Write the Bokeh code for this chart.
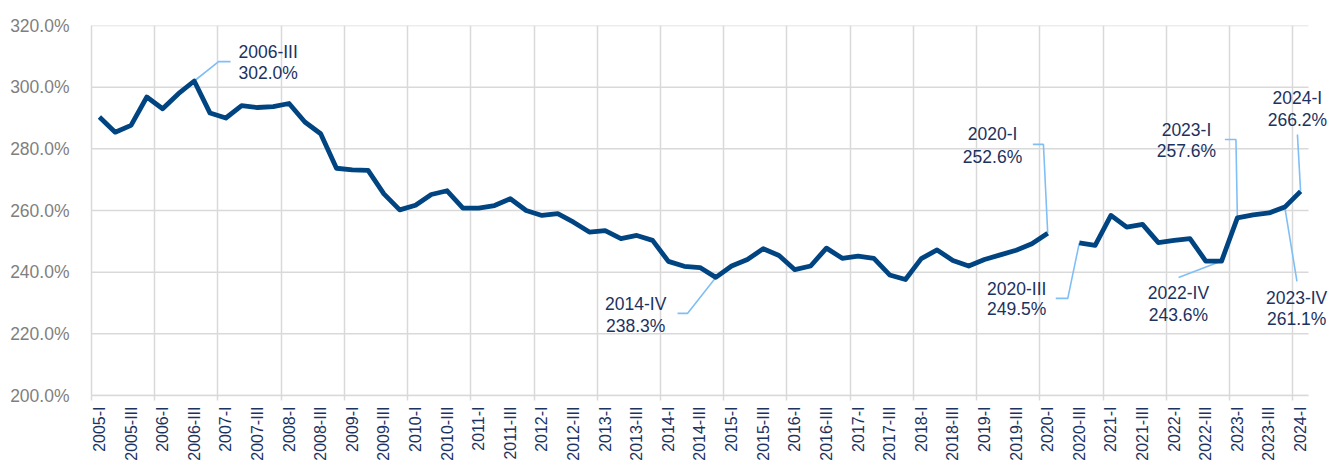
import math
from bokeh.plotting import figure
from bokeh.models import Range1d, FixedTicker, ColumnDataSource, LabelSet, PrintfTickFormatter
from bokeh.core.properties import value
from bokeh.embed import file_html
from bokeh.resources import INLINE

# ---------------- data ----------------
years = list(range(2005, 2025))
roman = ["I", "II", "III", "IV"]
quarters = [f"{y}-{r}" for y in years for r in roman][:77]

values = [
    290.3, 285.4, 287.6, 296.8,   # 2005
    293.0, 297.9, 302.0, 291.6,   # 2006
    290.0, 294.0, 293.4, 293.7,   # 2007
    294.7, 288.7, 284.9, 273.7,   # 2008
    273.2, 273.0, 265.4, 260.2,   # 2009
    261.7, 265.2, 266.4, 260.8,   # 2010
    260.8, 261.6, 263.8, 260.0,   # 2011
    258.4, 259.0, 256.2, 253.0,   # 2012
    253.5, 250.9, 251.9, 250.3,   # 2013
    243.5, 241.9, 241.5, 238.3,   # 2014
    242.0, 244.1, 247.6, 245.4,   # 2015
    240.8, 242.0, 247.8, 244.5,   # 2016
    245.2, 244.5, 239.1, 237.6,   # 2017
    244.4, 247.2, 243.8, 242.0,   # 2018
    244.1, 245.6, 247.1, 249.2,   # 2019
    252.6, float("nan"), 249.5, 248.7,  # 2020
    258.4, 254.6, 255.5, 249.6,   # 2021
    250.3, 250.9, 243.6, 243.6,   # 2022
    257.6, 258.6, 259.2, 261.1,   # 2023
    266.2,                        # 2024
]

tick_labels = quarters[::2]
y_ticks = [200, 220, 240, 260, 280, 300, 320]

annot_quarters = ["2006-III", "2014-IV", "2020-I", "2020-III",
                  "2022-IV", "2023-I", "2023-IV", "2024-I"]

# layout of the call-outs (positions, not data)
annot_align = ["left", "center", "center", "center", "center", "center", "center", "center"]
annot_tx = [8.80, 33.93, 56.51, 58.04, 68.27, 68.78, 75.75, 75.80]
annot_ty1 = [311.25, 229.56, 284.67, 234.42, 233.13, 285.96, 231.51, 296.34]
annot_ty2 = [304.44, 222.43, 277.21, 227.94, 226.00, 279.16, 224.70, 289.21]
leader_x = [[7.54, 8.30], [37.22, 36.58], [59.73, 59.06], [61.27, 60.51],
            [68.28], [71.91, 71.21], [75.77], [75.80]]
leader_y = [[308.3, 308.3], [226.65, 226.65], [281.43, 281.43], [231.51, 231.51],
            [238.31], [283.05, 283.05], [237.02], [284.67]]

# ---------------- figure ----------------
FONT = "Liberation Sans"
GRID = "#D9D9D9"
NAVY = "#1C325F"

X0, X1 = -0.5, 76.5
p = figure(width=1330, height=463,
           x_range=Range1d(X0, X1 + 22 / 15.8), y_range=Range1d(200, 320),
           output_backend="svg", toolbar_location=None,
           min_border_left=91, min_border_right=0,
           min_border_top=25, min_border_bottom=68)
p.outline_line_color = None
p.background_fill_color = "white"
p.border_fill_color = "white"

idx = list(range(len(quarters)))
year_bounds = [X0 + 4 * k for k in range(20)]

# x axis
p.xaxis.ticker = FixedTicker(ticks=idx[::2], minor_ticks=year_bounds)
p.xaxis.bounds = (X0, X1)
p.xaxis.major_label_overrides = {i: lab for i, lab in zip(idx[::2], tick_labels)}
p.xaxis.major_label_orientation = math.pi / 2
p.xaxis.major_label_text_font = FONT
p.xaxis.major_label_text_font_size = "16px"
p.xaxis.major_label_text_color = NAVY
p.xaxis.major_label_standoff = 5
p.xaxis.major_tick_line_color = None
p.xaxis.minor_tick_line_color = GRID
p.xaxis.minor_tick_line_width = 1.5
p.xaxis.minor_tick_out = 5
p.xaxis.minor_tick_in = 0
p.xaxis.axis_line_color = GRID
p.xaxis.axis_line_width = 1.5

# y axis
p.yaxis.ticker = FixedTicker(ticks=y_ticks)
p.yaxis.formatter = PrintfTickFormatter(format="%.1f%%")
p.yaxis.major_label_text_font = FONT
p.yaxis.major_label_text_font_size = "17.5px"
p.yaxis.major_label_text_color = "#7F7F7F"
p.yaxis.major_label_standoff = 16
p.yaxis.major_tick_line_color = None
p.yaxis.minor_tick_line_color = None
p.yaxis.axis_line_color = GRID
p.yaxis.axis_line_width = 1.5

# grids: vertical via grid, horizontal as bounded segments
p.xgrid.ticker = FixedTicker(ticks=year_bounds)
p.xgrid.grid_line_color = GRID
p.xgrid.grid_line_width = 1.5
p.ygrid.visible = False
p.segment(x0=[X0] * len(y_ticks), x1=[X1] * len(y_ticks), y0=y_ticks, y1=y_ticks,
          line_color=GRID, line_width=1.5)

# leader lines (start at the data point)
xs, ys = [], []
for q, lx, ly in zip(annot_quarters, leader_x, leader_y):
    i = quarters.index(q)
    xs.append([i] + lx)
    ys.append([values[i]] + ly)
p.multi_line(xs=xs, ys=ys, line_color="#80BFF5", line_width=1.6)

# main series
p.line(x=idx, y=values, line_color="#004481", line_width=4.8, line_join="round")

# call-out texts
for align in ["left", "center"]:
    tx, ty, tt = [], [], []
    for k, q in enumerate(annot_quarters):
        if annot_align[k] != align:
            continue
        v = values[quarters.index(q)]
        tx += [annot_tx[k], annot_tx[k]]
        ty += [annot_ty1[k], annot_ty2[k]]
        tt += [q, f"{v:.1f}%"]
    src = ColumnDataSource(dict(x=tx, y=ty, text=tt))
    p.add_layout(LabelSet(x="x", y="y", text="text", source=src,
                          text_align=value(align), text_baseline=value("middle"),
                          text_font=value(FONT), text_font_size=value("17.5px"),
                          text_color=value(NAVY)))

open("out.html", "w").write(file_html(p, INLINE))
